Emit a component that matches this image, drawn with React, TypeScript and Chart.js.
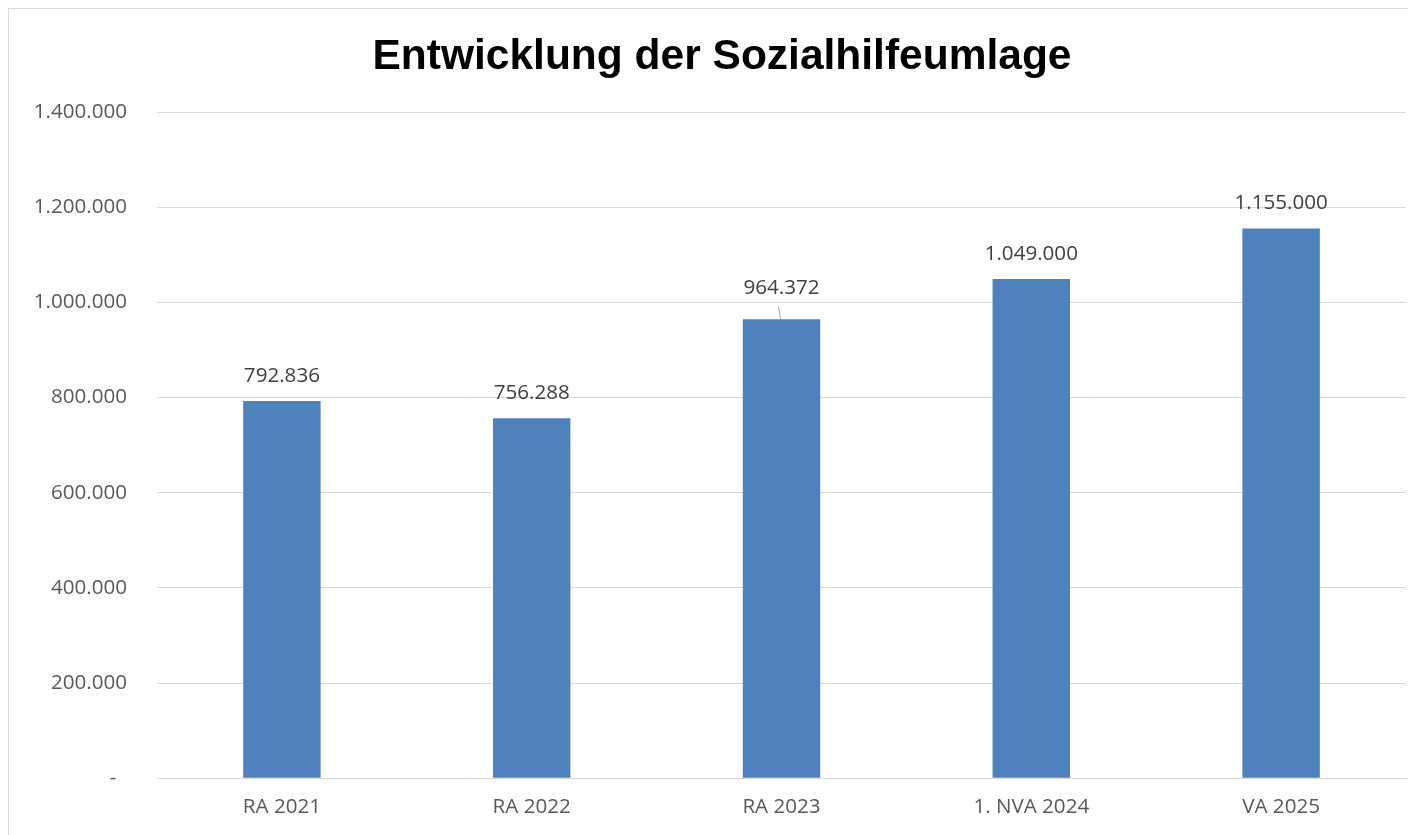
import React, { useEffect, useRef } from "react";
import { Chart, registerables } from "chart.js";

Chart.register(...registerables);

const TITLE = "Entwicklung der Sozialhilfeumlage";
const categories = ["RA 2021", "RA 2022", "RA 2023", "1. NVA 2024", "VA 2025"];
const values = [792836, 756288, 964372, 1049000, 1155000];
const yTicks = [0, 200000, 400000, 600000, 800000, 1000000, 1200000, 1400000];

const BAR_COLOR = "#4F81BD";
const GRID_COLOR = "#d9d9d9";
const TEXT_COLOR = "#595959";
const LABEL_COLOR = "#404040";
const FONT = "'Open Sans', 'DejaVu Sans', sans-serif";

const fmt = (v: number) =>
  v === 0 ? "-  " : Math.round(v).toString().replace(/\B(?=(\d{3})+(?!\d))/g, ".");

const titlePlugin = {
  id: "customTitle",
  afterDraw(chart: any) {
    const ctx = chart.ctx;
    ctx.save();
    ctx.font = `bold 42.5px 'Liberation Sans', Arial, sans-serif`;
    ctx.fillStyle = "#000000";
    ctx.textAlign = "center";
    ctx.textBaseline = "middle";
    ctx.fillText(TITLE, 713, 47);
    ctx.restore();
  },
};

const dataLabelPlugin = {
  id: "dataLabels",
  afterDatasetsDraw(chart: any) {
    const ctx = chart.ctx;
    const meta = chart.getDatasetMeta(0);
    ctx.save();
    ctx.font = `20.6px ${FONT}`;
    ctx.fillStyle = LABEL_COLOR;
    ctx.textAlign = "center";
    ctx.textBaseline = "middle";
    meta.data.forEach((bar: any, i: number) => {
      const lifted = i === 2;
      const off = lifted ? 31 : 25;
      ctx.fillText(fmt(values[i]), bar.x, bar.y - off);
      if (lifted) {
        ctx.strokeStyle = "#a6a6a6";
        ctx.lineWidth = 1;
        ctx.beginPath();
        ctx.moveTo(bar.x - 3, bar.y - 13);
        ctx.lineTo(bar.x - 1, bar.y);
        ctx.stroke();
      }
    });
    ctx.restore();
  },
};

export default function App() {
  const ref = useRef<HTMLCanvasElement | null>(null);

  useEffect(() => {
    document.body.style.overflow = "hidden";
    if (!ref.current) return;
    const chart = new Chart(ref.current, {
      type: "bar",
      data: {
        labels: categories,
        datasets: [
          {
            data: values,
            backgroundColor: BAR_COLOR,
            borderWidth: 0,
            barPercentage: 0.31,
            categoryPercentage: 1,
          },
        ],
      },
      options: {
        animation: false,
        responsive: false,
        layout: { padding: { top: 102, right: 10, bottom: 0, left: 0 } },
        plugins: {
          legend: { display: false },
          tooltip: { enabled: false },
          title: { display: false },
        },
        scales: {
          x: {
            grid: { display: false, drawTicks: false },
            border: { display: true, color: GRID_COLOR, width: 1 },
            ticks: { color: TEXT_COLOR, font: { family: FONT, size: 20.6 }, padding: 16 },
          },
          y: {
            min: 0,
            max: 1400000,
            afterBuildTicks: (axis: any) => {
              axis.ticks = yTicks.map((v) => ({ value: v }));
            },
            afterFit: (axis: any) => {
              axis.width = 148;
            },
            grid: { color: GRID_COLOR, lineWidth: 1, drawTicks: false },
            border: { display: false },
            ticks: {
              color: TEXT_COLOR,
              font: { family: FONT, size: 20.6 },
              padding: 30,
              callback: (v: any) => fmt(Number(v)),
            },
          },
        },
      },
      plugins: [dataLabelPlugin, titlePlugin],
    });
    return () => chart.destroy();
  }, []);

  return (
    <div
      style={{
        width: 1407,
        height: 826,
        borderLeft: "1px solid #d9d9d9",
        borderTop: "1px solid #d9d9d9",
        background: "#fff",
        overflow: "hidden",
      }}
    >
      <canvas ref={ref} width={1407} height={825} style={{ display: "block", marginTop: 1 }} />
    </div>
  );
}
